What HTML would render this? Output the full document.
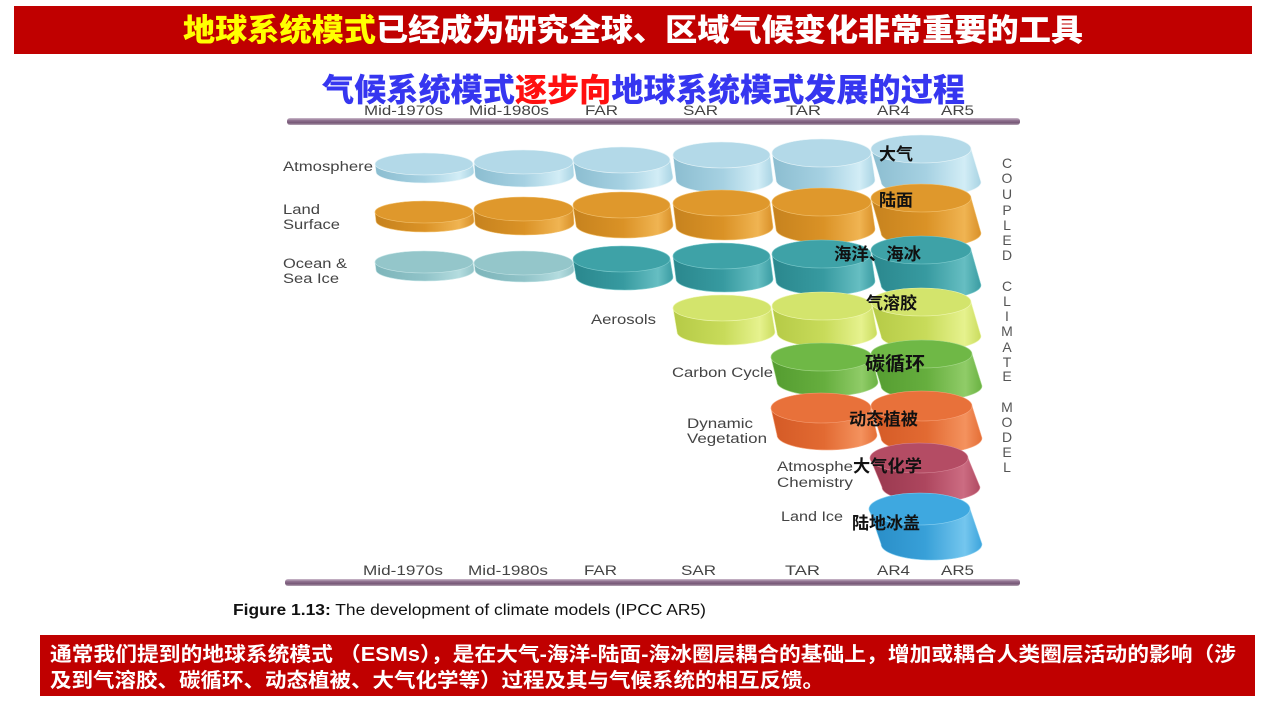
<!DOCTYPE html>
<html>
<head>
<meta charset="utf-8">
<style>
  html,body{margin:0;padding:0;background:#fff;}
  body{width:1267px;height:702px;overflow:hidden;}
  svg{display:block;}
  .lat{font-family:"Liberation Sans",Arial,sans-serif;}
  .cjk{font-family:"Liberation Sans","Noto Sans CJK SC","WenQuanYi Zen Hei",sans-serif;}
</style>
</head>
<body>
<svg width="1267" height="702" viewBox="0 0 1267 702" xmlns="http://www.w3.org/2000/svg">
  <defs>
    <linearGradient id="gAtm" x1="0" y1="0" x2="1" y2="0">
      <stop offset="0" stop-color="#8bbdd0"/><stop offset="0.5" stop-color="#a6d1e2"/>
      <stop offset="0.85" stop-color="#d2edf6"/><stop offset="1" stop-color="#a8d3e3"/>
    </linearGradient>
    <linearGradient id="gLand" x1="0" y1="0" x2="1" y2="0">
      <stop offset="0" stop-color="#c6821e"/><stop offset="0.5" stop-color="#da9226"/>
      <stop offset="0.85" stop-color="#f0b452"/><stop offset="1" stop-color="#d99028"/>
    </linearGradient>
    <linearGradient id="gOcL" x1="0" y1="0" x2="1" y2="0">
      <stop offset="0" stop-color="#7db5ba"/><stop offset="0.5" stop-color="#90c3c8"/>
      <stop offset="0.85" stop-color="#b4dcdf"/><stop offset="1" stop-color="#92c4c8"/>
    </linearGradient>
    <linearGradient id="gOc" x1="0" y1="0" x2="1" y2="0">
      <stop offset="0" stop-color="#2a878d"/><stop offset="0.5" stop-color="#379aa0"/>
      <stop offset="0.85" stop-color="#66bec2"/><stop offset="1" stop-color="#3a9ca2"/>
    </linearGradient>
    <linearGradient id="gAer" x1="0" y1="0" x2="1" y2="0">
      <stop offset="0" stop-color="#b5ca46"/><stop offset="0.5" stop-color="#c8db5a"/>
      <stop offset="0.85" stop-color="#e6f28e"/><stop offset="1" stop-color="#cadc5e"/>
    </linearGradient>
    <linearGradient id="gCar" x1="0" y1="0" x2="1" y2="0">
      <stop offset="0" stop-color="#549c30"/><stop offset="0.5" stop-color="#66ae3e"/>
      <stop offset="0.85" stop-color="#90cc68"/><stop offset="1" stop-color="#6ab242"/>
    </linearGradient>
    <linearGradient id="gVeg" x1="0" y1="0" x2="1" y2="0">
      <stop offset="0" stop-color="#d45a26"/><stop offset="0.5" stop-color="#e26a32"/>
      <stop offset="0.85" stop-color="#f4925e"/><stop offset="1" stop-color="#e46e36"/>
    </linearGradient>
    <linearGradient id="gChem" x1="0" y1="0" x2="1" y2="0">
      <stop offset="0" stop-color="#98384e"/><stop offset="0.5" stop-color="#ad465e"/>
      <stop offset="0.85" stop-color="#cc6c82"/><stop offset="1" stop-color="#b04a62"/>
    </linearGradient>
    <linearGradient id="gIce" x1="0" y1="0" x2="1" y2="0">
      <stop offset="0" stop-color="#288cc6"/><stop offset="0.5" stop-color="#38a0d8"/>
      <stop offset="0.85" stop-color="#74c6ee"/><stop offset="1" stop-color="#3ca4dc"/>
    </linearGradient>
    <linearGradient id="gBar" x1="0" y1="0" x2="0" y2="1">
      <stop offset="0" stop-color="#cdbccd"/><stop offset="0.35" stop-color="#8e6f8e"/>
      <stop offset="0.7" stop-color="#765876"/><stop offset="1" stop-color="#b8a8b8"/>
    </linearGradient>
  </defs>

  <!-- top banner -->
  <rect x="14" y="6" width="1238" height="48" fill="#C00000"/>
  <text class="cjk" x="183" y="41" font-size="31" font-weight="900" textLength="900" lengthAdjust="spacingAndGlyphs" fill="#ffffff"><tspan fill="#FFFF00">地球系统模式</tspan>已经成为研究全球、区域气候变化非常重要的工具</text>

  <!-- subtitle -->
  <text class="cjk" x="322" y="101" font-size="32" font-weight="900" textLength="643" lengthAdjust="spacingAndGlyphs" fill="#3636f0">气候系统模式<tspan fill="#ff1010">逐步向</tspan>地球系统模式发展的过程</text>

  <!-- top labels -->
  <g class="lat" font-size="13.5" fill="#444">
    <text x="364" y="115" textLength="79" lengthAdjust="spacingAndGlyphs">Mid-1970s</text>
    <text x="469" y="115" textLength="80" lengthAdjust="spacingAndGlyphs">Mid-1980s</text>
    <text x="585" y="115" textLength="33" lengthAdjust="spacingAndGlyphs">FAR</text>
    <text x="683" y="115" textLength="35" lengthAdjust="spacingAndGlyphs">SAR</text>
    <text x="786" y="115" textLength="35" lengthAdjust="spacingAndGlyphs">TAR</text>
    <text x="877" y="115" textLength="33" lengthAdjust="spacingAndGlyphs">AR4</text>
    <text x="941" y="115" textLength="33" lengthAdjust="spacingAndGlyphs">AR5</text>
  </g>
  <rect x="287" y="118" width="733" height="7" rx="3" fill="url(#gBar)"/>

  <!-- Atmosphere row -->
  <g stroke="#e6f4f8" stroke-width="0.6">
    <path d="M375 164 L376 172 A49 11 0 0 0 474 172 L473 164 Z" fill="url(#gAtm)"/>
    <ellipse cx="424" cy="164" rx="49" ry="11" fill="#b3d9e8"/>
    <path d="M474 162 L475 175 A49.5 12 0 0 0 574 175 L573 162 Z" fill="url(#gAtm)"/>
    <ellipse cx="523.5" cy="162" rx="49.5" ry="12" fill="#b3d9e8"/>
    <path d="M573 160 L576 177 A48.5 13 0 0 0 673 177 L670 160 Z" fill="url(#gAtm)"/>
    <ellipse cx="621.5" cy="160" rx="48.5" ry="13" fill="#b3d9e8"/>
    <path d="M673 155 L676 180 A48.5 13 0 0 0 773 180 L770 155 Z" fill="url(#gAtm)"/>
    <ellipse cx="721.5" cy="155" rx="48.5" ry="13" fill="#b3d9e8"/>
    <path d="M772 153 L776 180 A49.5 14 0 0 0 875 180 L871 153 Z" fill="url(#gAtm)"/>
    <ellipse cx="821.5" cy="153" rx="49.5" ry="14" fill="#b3d9e8"/>
    <path d="M871 149 L881 182 A50 14 0 0 0 981 182 L971 149 Z" fill="url(#gAtm)"/>
    <ellipse cx="921" cy="149" rx="50" ry="14" fill="#b3d9e8"/>
  </g>

  <!-- Land row -->
  <g stroke="#f2c270" stroke-width="0.6">
    <path d="M375 212 L376 221 A49 11 0 0 0 474 221 L473 212 Z" fill="url(#gLand)"/>
    <ellipse cx="424" cy="212" rx="49" ry="11" fill="#df982c"/>
    <path d="M474 209 L475 223 A49.5 12 0 0 0 574 223 L573 209 Z" fill="url(#gLand)"/>
    <ellipse cx="523.5" cy="209" rx="49.5" ry="12" fill="#df982c"/>
    <path d="M573 205 L576 225 A48.5 13 0 0 0 673 225 L670 205 Z" fill="url(#gLand)"/>
    <ellipse cx="621.5" cy="205" rx="48.5" ry="13" fill="#df982c"/>
    <path d="M673 203 L676 227 A48.5 13 0 0 0 773 227 L770 203 Z" fill="url(#gLand)"/>
    <ellipse cx="721.5" cy="203" rx="48.5" ry="13" fill="#df982c"/>
    <path d="M772 202 L776 229 A49.5 14 0 0 0 875 229 L871 202 Z" fill="url(#gLand)"/>
    <ellipse cx="821.5" cy="202" rx="49.5" ry="14" fill="#df982c"/>
    <path d="M871 198 L881 233 A50 14 0 0 0 981 233 L971 198 Z" fill="url(#gLand)"/>
    <ellipse cx="921" cy="198" rx="50" ry="14" fill="#df982c"/>
  </g>

  <!-- Ocean row -->
  <g stroke="#c4e4e6" stroke-width="0.6">
    <path d="M375 262 L376 270 A49 11 0 0 0 474 270 L473 262 Z" fill="url(#gOcL)"/>
    <ellipse cx="424" cy="262" rx="49" ry="11" fill="#94c6ca"/>
    <path d="M474 263 L475 270 A49.5 12 0 0 0 574 270 L573 263 Z" fill="url(#gOcL)"/>
    <ellipse cx="523.5" cy="263" rx="49.5" ry="12" fill="#94c6ca"/>
  </g>
  <g stroke="#7ccacc" stroke-width="0.6">
    <path d="M573 259 L576 277 A48.5 13 0 0 0 673 277 L670 259 Z" fill="url(#gOc)"/>
    <ellipse cx="621.5" cy="259" rx="48.5" ry="13" fill="#3ea2a7"/>
    <path d="M673 256 L676 279 A48.5 13 0 0 0 773 279 L770 256 Z" fill="url(#gOc)"/>
    <ellipse cx="721.5" cy="256" rx="48.5" ry="13" fill="#3ea2a7"/>
    <path d="M772 254 L776 281 A49.5 14 0 0 0 875 281 L871 254 Z" fill="url(#gOc)"/>
    <ellipse cx="821.5" cy="254" rx="49.5" ry="14" fill="#3ea2a7"/>
    <path d="M871 250 L881 285 A50 14 0 0 0 981 285 L971 250 Z" fill="url(#gOc)"/>
    <ellipse cx="921" cy="250" rx="50" ry="14" fill="#3ea2a7"/>
  </g>

  <!-- Aerosols row -->
  <g stroke="#eef6b0" stroke-width="0.6">
    <path d="M673 308 L677 332 A49 13 0 0 0 775 332 L771 308 Z" fill="url(#gAer)"/>
    <ellipse cx="722" cy="308" rx="49" ry="13" fill="#d3e46c"/>
    <path d="M772 306 L777 333 A50 14 0 0 0 877 333 L872 306 Z" fill="url(#gAer)"/>
    <ellipse cx="822" cy="306" rx="50" ry="14" fill="#d3e46c"/>
    <path d="M871 302 L881 336 A50 14 0 0 0 981 336 L971 302 Z" fill="url(#gAer)"/>
    <ellipse cx="921" cy="302" rx="50" ry="14" fill="#d3e46c"/>
  </g>

  <!-- Carbon row -->
  <g stroke="#a6d88a" stroke-width="0.6">
    <path d="M771 357 L777 382 A50.5 14 0 0 0 878 382 L872 357 Z" fill="url(#gCar)"/>
    <ellipse cx="821.5" cy="357" rx="50.5" ry="14" fill="#6fb846"/>
    <path d="M871 354 L881 386 A50.5 14 0 0 0 982 386 L972 354 Z" fill="url(#gCar)"/>
    <ellipse cx="921.5" cy="354" rx="50.5" ry="14" fill="#6fb846"/>
  </g>

  <!-- Dynamic vegetation row -->
  <g stroke="#f6a47c" stroke-width="0.6">
    <path d="M771 408 L777 435 A50 15 0 0 0 877 435 L871 408 Z" fill="url(#gVeg)"/>
    <ellipse cx="821" cy="408" rx="50" ry="15" fill="#e8713a"/>
    <path d="M871 406 L881 438 A50.5 15 0 0 0 982 438 L972 406 Z" fill="url(#gVeg)"/>
    <ellipse cx="921.5" cy="406" rx="50.5" ry="15" fill="#e8713a"/>
  </g>

  <!-- Atmospheric chemistry -->
  <g stroke="#d88a9a" stroke-width="0.6">
    <path d="M870 458 L882 487 A49 15 0 0 0 980 487 L968 458 Z" fill="url(#gChem)"/>
    <ellipse cx="919" cy="458" rx="49" ry="15" fill="#b44c64"/>
  </g>

  <!-- Land ice -->
  <g stroke="#8ad0f0" stroke-width="0.6">
    <path d="M869 509 L881 544 A50.5 16 0 0 0 982 544 L970 509 Z" fill="url(#gIce)"/>
    <ellipse cx="919.5" cy="509" rx="50.5" ry="16" fill="#3ea8e0"/>
  </g>

  <!-- left english labels -->
  <g class="lat" font-size="13.5" fill="#444">
    <text x="283" y="171" textLength="90" lengthAdjust="spacingAndGlyphs">Atmosphere</text>
    <text x="283" y="214" textLength="37" lengthAdjust="spacingAndGlyphs">Land</text>
    <text x="283" y="229" textLength="57" lengthAdjust="spacingAndGlyphs">Surface</text>
    <text x="283" y="268" textLength="64" lengthAdjust="spacingAndGlyphs">Ocean &amp;</text>
    <text x="283" y="283" textLength="56" lengthAdjust="spacingAndGlyphs">Sea Ice</text>
    <text x="591" y="324" textLength="65" lengthAdjust="spacingAndGlyphs">Aerosols</text>
    <text x="672" y="377" textLength="101" lengthAdjust="spacingAndGlyphs">Carbon Cycle</text>
    <text x="687" y="428" textLength="66" lengthAdjust="spacingAndGlyphs">Dynamic</text>
    <text x="687" y="443" textLength="80" lengthAdjust="spacingAndGlyphs">Vegetation</text>
    <text x="777" y="471" textLength="76" lengthAdjust="spacingAndGlyphs">Atmosphe</text>
    <text x="777" y="487" textLength="76" lengthAdjust="spacingAndGlyphs">Chemistry</text>
    <text x="781" y="521" textLength="62" lengthAdjust="spacingAndGlyphs">Land Ice</text>
  </g>

  <!-- chinese labels -->
  <g class="cjk" font-weight="700" fill="#111">
    <text x="879" y="160" font-size="17" textLength="34" lengthAdjust="spacingAndGlyphs">大气</text>
    <text x="879" y="206" font-size="17" textLength="34" lengthAdjust="spacingAndGlyphs">陆面</text>
    <text x="834" y="260" font-size="17" textLength="87" lengthAdjust="spacingAndGlyphs">海洋、海冰</text>
    <text x="866" y="309" font-size="17" textLength="51" lengthAdjust="spacingAndGlyphs">气溶胶</text>
    <text x="865" y="370" font-size="19" textLength="60" lengthAdjust="spacingAndGlyphs">碳循环</text>
    <text x="849" y="425" font-size="17" textLength="69" lengthAdjust="spacingAndGlyphs">动态植被</text>
    <text x="853" y="472" font-size="17" textLength="69" lengthAdjust="spacingAndGlyphs">大气化学</text>
    <text x="852" y="529" font-size="17" textLength="68" lengthAdjust="spacingAndGlyphs">陆地冰盖</text>
  </g>

  <!-- vertical COUPLED CLIMATE MODEL -->
  <g class="lat" font-size="14" fill="#555" text-anchor="middle">
    <text x="1007" y="168">C</text>
    <text x="1007" y="183">O</text>
    <text x="1007" y="199">U</text>
    <text x="1007" y="215">P</text>
    <text x="1007" y="230">L</text>
    <text x="1007" y="245">E</text>
    <text x="1007" y="260">D</text>
    <text x="1007" y="291">C</text>
    <text x="1007" y="306">L</text>
    <text x="1007" y="321">I</text>
    <text x="1007" y="336">M</text>
    <text x="1007" y="352">A</text>
    <text x="1007" y="367">T</text>
    <text x="1007" y="381">E</text>
    <text x="1007" y="412">M</text>
    <text x="1007" y="427">O</text>
    <text x="1007" y="442">D</text>
    <text x="1007" y="457">E</text>
    <text x="1007" y="472">L</text>
  </g>

  <!-- bottom labels -->
  <g class="lat" font-size="13.5" fill="#444">
    <text x="363" y="575" textLength="80" lengthAdjust="spacingAndGlyphs">Mid-1970s</text>
    <text x="468" y="575" textLength="80" lengthAdjust="spacingAndGlyphs">Mid-1980s</text>
    <text x="584" y="575" textLength="33" lengthAdjust="spacingAndGlyphs">FAR</text>
    <text x="681" y="575" textLength="35" lengthAdjust="spacingAndGlyphs">SAR</text>
    <text x="785" y="575" textLength="35" lengthAdjust="spacingAndGlyphs">TAR</text>
    <text x="877" y="575" textLength="33" lengthAdjust="spacingAndGlyphs">AR4</text>
    <text x="941" y="575" textLength="33" lengthAdjust="spacingAndGlyphs">AR5</text>
  </g>
  <rect x="285" y="579" width="735" height="7" rx="3" fill="url(#gBar)"/>

  <!-- caption -->
  <text class="lat" x="233" y="615" font-size="15.5" fill="#111" textLength="473" lengthAdjust="spacingAndGlyphs"><tspan font-weight="bold">Figure 1.13:</tspan> The development of climate models (IPCC AR5)</text>

  <!-- bottom banner -->
  <rect x="40" y="635" width="1215" height="61" fill="#C00000"/>
  <text class="cjk" x="50" y="661" font-size="20" font-weight="700" fill="#fff" textLength="1186" lengthAdjust="spacingAndGlyphs">通常我们提到的地球系统模式 （ESMs），是在大气-海洋-陆面-海冰圈层耦合的基础上，增加或耦合人类圈层活动的影响（涉</text>
  <text class="cjk" x="50" y="687" font-size="20" font-weight="700" fill="#fff" textLength="774" lengthAdjust="spacingAndGlyphs">及到气溶胶、碳循环、动态植被、大气化学等）过程及其与气候系统的相互反馈。</text>
</svg>
</body>
</html>
